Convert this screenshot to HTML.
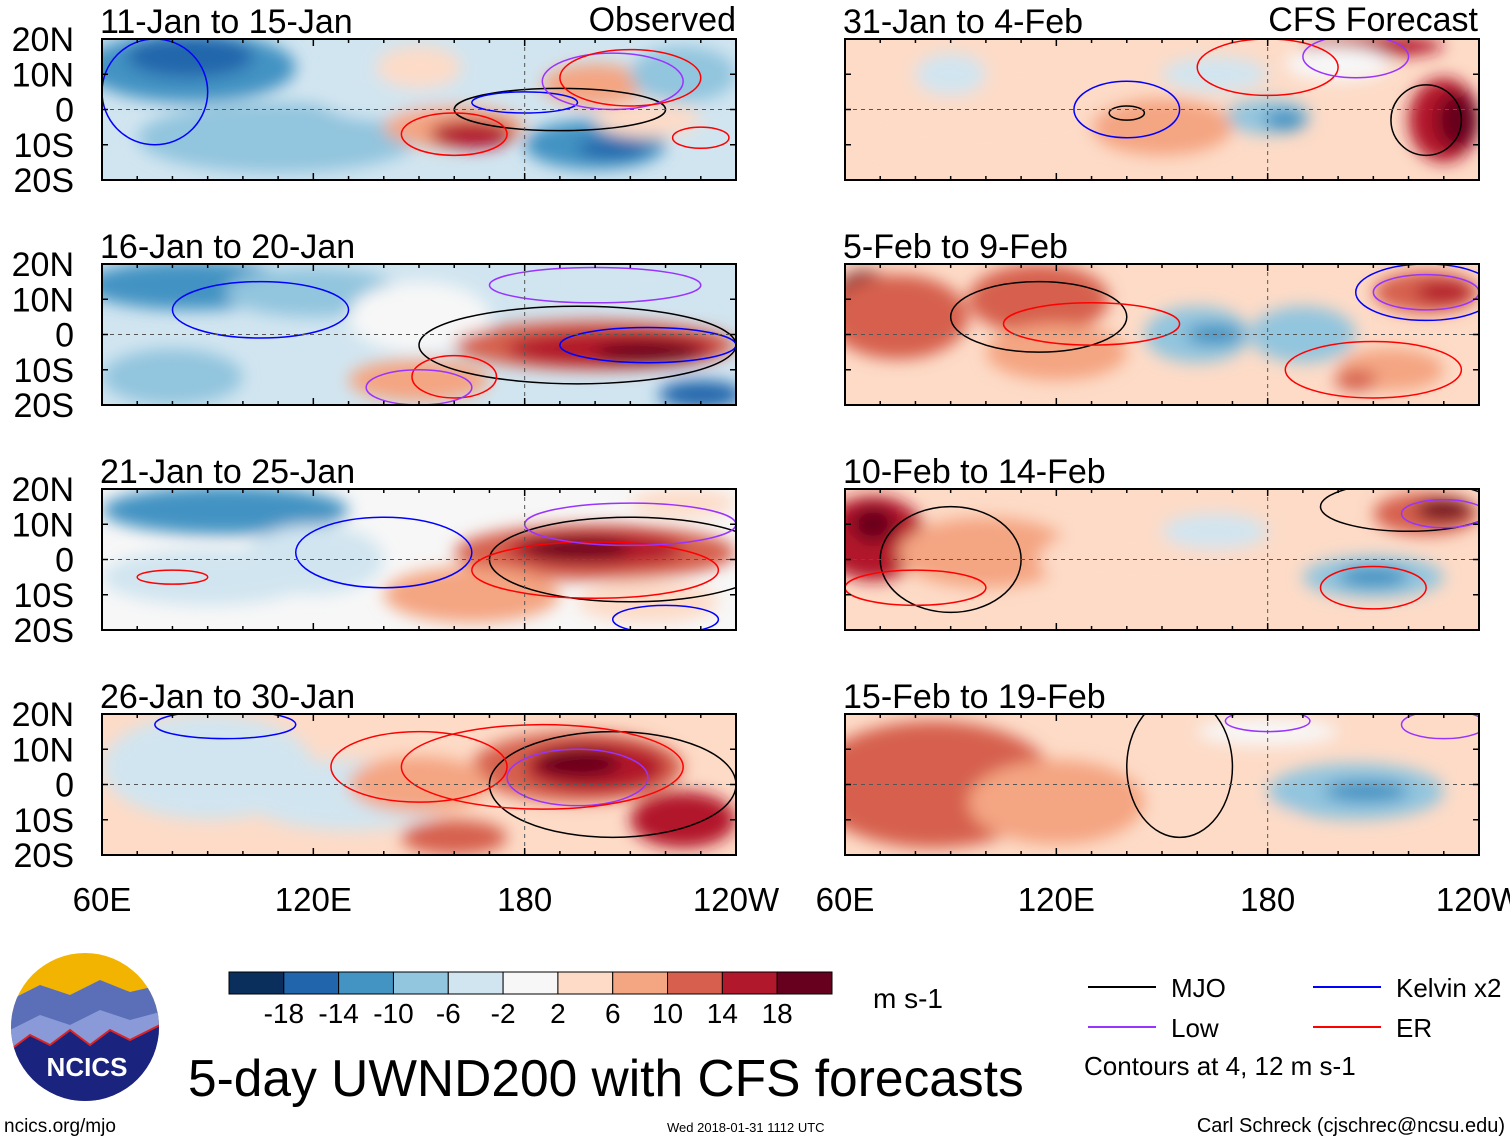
<!DOCTYPE html>
<html><head><meta charset="utf-8">
<style>
html,body{margin:0;padding:0;background:#fff;}
body{width:1510px;height:1142px;overflow:hidden;font-family:"Liberation Sans",Arial,sans-serif;}
svg text{font-family:"Liberation Sans",Arial,sans-serif;}
</style></head>
<body>
<svg id="chart" width="1510" height="1142" xmlns="http://www.w3.org/2000/svg">
<defs>
<filter id="blur" x="-30%" y="-30%" width="160%" height="160%"><feGaussianBlur stdDeviation="8"/></filter>
</defs>
</svg>
<script>
// ---- data ----
const panelTitles=["11-Jan to 15-Jan","16-Jan to 20-Jan","21-Jan to 25-Jan","26-Jan to 30-Jan","31-Jan to 4-Feb","5-Feb to 9-Feb","10-Feb to 14-Feb","15-Feb to 19-Feb"];
const latTicks=["20N","10N","0","10S","20S"];
const lonTicks=["60E","120E","180","120W"];
const cbarLabels=["-18","-14","-10","-6","-2","2","6","10","14","18"];
const colors=["#0b2f5c","#2166ac","#4393c3","#92c5de","#d1e5f0","#f7f7f7","#fddbc7","#f4a582","#d6604d","#b2182b","#67001f"];
const panelBase=[4,4,5,6,6,6,6,6];
// blobs: [lon, lat, halfwidth deg, halfheight deg, colour level]
const blobs0=[[85,12,30,10,2],[85,15,18,6,1],[110,-8,40,10,3],[140,5,20,8,4],[160,-5,20,6,7],[165,-7,12,4,9],[200,-10,20,7,2],[205,-11,10,3,1],[200,7,15,6,7],[225,10,15,8,3],[215,-3,15,5,6],[150,12,12,6,6]];
const blobs1=[[85,14,30,7,2],[80,-12,20,8,3],[120,12,25,7,3],[150,5,20,10,5],[200,-3,40,7,8],[205,-4,30,5,9],[215,-5,15,3,10],[150,-13,20,6,7],[230,-17,12,4,1],[215,15,20,5,4]];
const blobs2=[[95,14,35,7,2],[90,-5,30,8,4],[200,2,40,8,8],[200,3,25,5,9],[195,3,15,3,10],[165,-10,25,8,7],[215,-12,20,6,6],[225,16,15,4,6],[120,0,20,10,4]];
const blobs3=[[90,5,30,15,4],[130,-3,30,10,4],[195,5,30,10,8],[200,5,20,7,9],[195,6,12,4,10],[225,-10,15,8,9],[160,-15,15,5,8],[150,0,20,8,7]];
const blobs4=[[100,0,40,15,6],[180,-2,12,5,3],[185,-3,6,3,2],[150,-5,20,8,7],[230,-3,10,12,9],[234,-3,6,8,10],[210,18,20,3,9],[165,10,15,5,4],[90,10,10,6,4],[200,13,15,5,5]];
const blobs5=[[66,8,10,10,10],[75,5,20,12,8],[115,10,20,10,8],[120,-5,20,8,7],[160,0,15,8,3],[165,0,8,3,2],[190,0,15,8,3],[215,-10,15,6,7],[205,-13,6,3,8],[225,12,15,6,8],[230,12,8,3,9]];
const blobs6=[[68,6,15,12,9],[68,10,6,5,10],[100,2,25,10,7],[145,0,30,10,6],[210,-5,20,6,3],[210,-5,10,3,2],[225,13,15,6,8],[230,14,8,3,10],[165,8,15,5,4]];
const blobs7=[[85,0,35,18,8],[120,-5,25,12,7],[205,-2,25,8,3],[208,-2,12,3,2],[180,15,20,4,5],[170,-10,20,5,6]];
const panelBlobs=[blobs0,blobs1,blobs2,blobs3,blobs4,blobs5,blobs6,blobs7];
// contours: [lon, lat, halfwidth, halfheight, type]  type 0=MJO 1=Kelvin 2=Low 3=ER
const cont0=[[190,0,30,6,0],[75,5,15,15,1],[180,2,15,3,1],[205,8,20,8,2],[210,9,20,8,3],[160,-7,15,6,3],[230,-8,8,3,3]];
const cont1=[[195,-3,45,11,0],[215,-3,25,5,1],[105,7,25,8,1],[200,14,30,5,2],[160,-12,12,6,3],[150,-15,15,5,2]];
const cont2=[[210,0,40,12,0],[140,2,25,10,1],[200,-3,35,8,3],[210,10,30,6,2],[220,-17,15,4,1],[80,-5,10,2,3]];
const cont3=[[205,0,35,15,0],[195,2,20,8,2],[185,5,40,12,3],[150,5,25,10,3],[95,17,20,4,1]];
const cont4=[[140,0,15,8,1],[140,-1,5,2,0],[180,12,20,8,3],[205,15,15,6,2],[225,-3,10,10,0]];
const cont5=[[225,12,20,8,1],[225,12,15,5,2],[115,5,25,10,0],[210,-10,25,8,3],[130,3,25,6,3]];
const cont6=[[210,-8,15,6,3],[220,15,25,7,0],[90,0,20,15,0],[230,13,12,4,2],[80,-8,20,5,3]];
const cont7=[[155,5,15,20,0],[230,17,12,4,2],[180,18,12,3,2]];
const panelConts=[cont0,cont1,cont2,cont3,cont4,cont5,cont6,cont7];
const contColors=["#000000","#0000ff","#9933ff","#ff0000"];

const NS="http://www.w3.org/2000/svg";
const svg=document.getElementById('chart');
function mk(tag,attrs,parent){const e=document.createElementNS(NS,tag);for(const k in attrs)e.setAttribute(k,attrs[k]);(parent||svg).appendChild(e);return e;}
const W=634,H=141;
const panelX=[102,102,102,102,845,845,845,845];
const panelY=[39,264,489,714,39,264,489,714];

panelTitles.forEach((t,i)=>{
  const x0=panelX[i],y0=panelY[i];
  const xs=lon=>x0+(lon-60)/180*W;
  const ys=lat=>y0+(20-lat)/40*H;
  const g=mk('g',{});
  
  
  const cp=mk('clipPath',{id:'cp'+i},g);
  mk('rect',{x:x0,y:y0,width:W,height:H},cp);
  const inner=mk('g',{'clip-path':'url(#cp'+i+')'},g);
  mk('rect',{x:x0,y:y0,width:W,height:H,fill:colors[panelBase[i]]},inner);
  const fg=mk('g',{filter:'url(#blur)'},inner);
  panelBlobs[i].forEach(b=>{
    const el=mk('ellipse',{cx:xs(b[0]),cy:ys(b[1]),rx:b[2]/180*W,ry:b[3]/40*H,fill:colors[b[4]]},fg);
    
    
  });
  panelConts[i].forEach(c=>{
    const el=mk('ellipse',{cx:xs(c[0]),cy:ys(c[1]),rx:c[2]/180*W,ry:c[3]/40*H,fill:'none',stroke:contColors[c[4]],'stroke-width':1.5},inner);
    
    
  });
  mk('line',{x1:x0,x2:x0+W,y1:ys(0),y2:ys(0),stroke:'#555','stroke-dasharray':'4,4','stroke-width':1},inner);
  mk('line',{x1:xs(180),x2:xs(180),y1:y0,y2:y0+H,stroke:'#555','stroke-dasharray':'4,4','stroke-width':1},inner);
  mk('rect',{x:x0,y:y0,width:W,height:H,fill:'none',stroke:'#000','stroke-width':2},g);
  for(let l=60;l<=240;l+=10){const len=(l%60===0)?7:4;
    mk('line',{x1:xs(l),x2:xs(l),y1:y0,y2:y0+len,stroke:'#000','stroke-width':1.5},g);
    mk('line',{x1:xs(l),x2:xs(l),y1:y0+H,y2:y0+H-len,stroke:'#000','stroke-width':1.5},g);}
  for(let la=-20;la<=20;la+=10){
    mk('line',{x1:x0,x2:x0+6,y1:ys(la),y2:ys(la),stroke:'#000','stroke-width':1.5},g);
    mk('line',{x1:x0+W,x2:x0+W-6,y1:ys(la),y2:ys(la),stroke:'#000','stroke-width':1.5},g);}
  const tt=mk('text',{x:x0-2,y:y0-6,'font-size':34,fill:'#000'},g);tt.textContent=t;
  
  
  if(i<4){latTicks.forEach((lab,k)=>{const tx=mk('text',{x:74,y:ys(20-k*10)+12,'font-size':34,'text-anchor':'end',fill:'#000'},g);tx.textContent=lab;
    
    });}
  if(i===3||i===7){lonTicks.forEach((lab,k)=>{const tx=mk('text',{x:xs(60+k*60),y:911,'font-size':33,'text-anchor':'middle',fill:'#000'},g);tx.textContent=lab;
    
    });}
});
const t1=mk('text',{x:736,y:31,'font-size':34,'text-anchor':'end'});t1.textContent="Observed";

const t2=mk('text',{x:1478,y:31,'font-size':34,'text-anchor':'end'});t2.textContent="CFS Forecast";


// colorbar
const cb=mk('g',{});
const cbx=229,cbw=603/11;
colors.forEach((c,k)=>{mk('rect',{x:cbx+k*cbw,y:972,width:cbw,height:22,fill:c,stroke:'#000','stroke-width':1},cb);});
cbarLabels.forEach((l,k)=>{const tx=mk('text',{x:cbx+(k+1)*cbw,y:1023,'font-size':28,'text-anchor':'middle'},cb);tx.textContent=l;});
const un=mk('text',{x:873,y:1008,'font-size':28});un.textContent="m s-1";


// legend
const legItems=[["MJO",0,1088,987],["Kelvin x2",1,1313,987],["Low",2,1088,1027],["ER",3,1313,1027]];
legItems.forEach(it=>{const g=mk('g',{});
  
  
  mk('line',{x1:it[2],x2:it[2]+68,y1:it[3],y2:it[3],stroke:contColors[it[1]],'stroke-width':2},g);
  const tx=mk('text',{x:it[2]+83,y:it[3]+10,'font-size':26},g);tx.textContent=it[0];});
const ct=mk('text',{x:1084,y:1075,'font-size':26});ct.textContent="Contours at 4, 12 m s-1";


// title & footer
const ti=mk('text',{x:188,y:1096,'font-size':51.5});ti.textContent="5-day UWND200 with CFS forecasts";

const f1=mk('text',{x:4,y:1132,'font-size':19});f1.textContent="ncics.org/mjo";

const f2=mk('text',{x:667,y:1132,'font-size':13});f2.textContent="Wed 2018-01-31 1112 UTC";

const f3=mk('text',{x:1505,y:1132,'font-size':20,'text-anchor':'end'});f3.textContent="Carl Schreck (cjschrec@ncsu.edu)";


// logo
const lg=mk('g',{});
mk('clipPath',{id:'logoclip'},lg).appendChild(document.createElementNS(NS,'circle'));
const lc=lg.querySelector('#logoclip circle');lc.setAttribute('cx',85);lc.setAttribute('cy',1027);lc.setAttribute('r',74);
const li=mk('g',{'clip-path':'url(#logoclip)'},lg);
mk('rect',{x:10,y:950,width:150,height:160,fill:'#f2b400'},li);
mk('path',{d:'M10 1000 L40 985 L70 995 L100 980 L130 992 L160 985 L160 1110 L10 1110Z',fill:'#5a6fb8'},li);
mk('path',{d:'M10 1030 L40 1015 L70 1025 L100 1010 L130 1020 L160 1012 L160 1110 L10 1110Z',fill:'#8a9ad8'},li);
mk('path',{d:'M10 1050 L30 1035 L50 1045 L70 1030 L90 1045 L110 1030 L130 1040 L160 1025 L160 1110 L10 1110Z',fill:'#1a237e',stroke:'#d22','stroke-width':2},li);
const lt=mk('text',{x:87,y:1076,'font-size':26,'font-weight':'bold','text-anchor':'middle',fill:'#fff'},lg);lt.textContent="NCICS";
</script>
</body></html>
